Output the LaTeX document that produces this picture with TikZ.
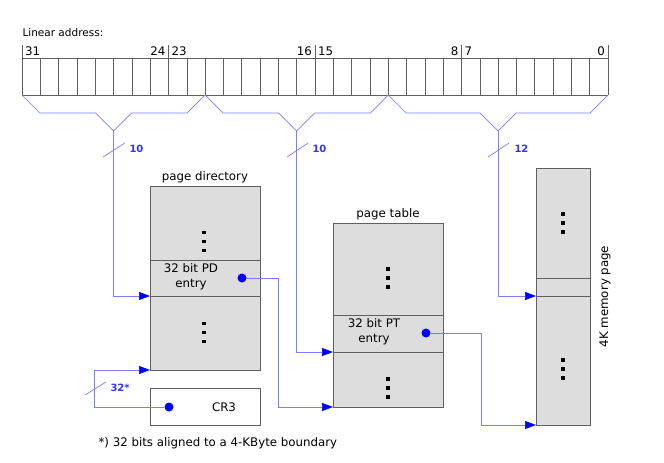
\documentclass[tikz,border=0pt]{standalone}
\usepackage{fontspec}
\setmainfont{DejaVu Sans}
\usepackage{xcolor}
\usetikzlibrary{arrows.meta,positioning}
\definecolor{linkblue}{RGB}{125,125,255}
\definecolor{boxgray}{RGB}{221,221,221}
\definecolor{edgegray}{RGB}{95,95,95}
\definecolor{lblblue}{RGB}{50,50,255}

\tikzset{
  membox/.style={draw=edgegray, fill=boxgray, line width=0.8pt, inner sep=0pt, outer sep=0pt},
  cell/.style={draw=edgegray, line width=0.6pt},
  wire/.style={draw=linkblue, line width=0.7pt},
  link/.style={wire, -{Triangle[length=11pt,width=8pt,color=blue]}},
  dot/.style={circle, fill=blue, inner sep=0pt, minimum size=9pt},
  lbl/.style={text=lblblue, font=\fontsize{10}{12}\selectfont\bfseries},
  bitno/.style={inner sep=3pt}
}

\begin{document}
\begin{tikzpicture}[x=1pt, y=-1pt, font=\fontsize{11.8}{15}\selectfont]
\useasboundingbox (0,0) rectangle (664,463);

% linear address register
\node[anchor=west, font=\fontsize{10.5}{12}\selectfont] (title) at (19,33) {Linear address:};
\draw[cell] (22,58) -- (608,58) (22,95) -- (608,95);
\foreach \i in {0,...,32}
  \draw[cell] ({22+\i*18.3125},58) -- ++(0,37);
\foreach \x in {22,168.5,315,461.5,608}
  \draw[cell] (\x,45) -- (\x,58);
\node[bitno, anchor=west] at (22,51) {31};
\node[bitno, anchor=east] at (168.5,51) {24};
\node[bitno, anchor=west] at (168.5,51) {23};
\node[bitno, anchor=east] at (315,51) {16};
\node[bitno, anchor=west] at (315,51) {15};
\node[bitno, anchor=east] at (461.5,51) {8};
\node[bitno, anchor=west] at (461.5,51) {7};
\node[bitno, anchor=east] at (608,51) {0};

% bit field braces
\foreach \l/\r/\n in {22/205.125/b1, 205.125/388.25/b2, 388.25/608/b3} {
  \draw[wire] (\l,95) -- ++(18,18) -- ({(\l+\r)/2-18},113) -- ({(\l+\r)/2},131)
    -- ({(\l+\r)/2+18},113) -- ({\r-18},113) -- (\r,95);
  \coordinate (\n) at ({(\l+\r)/2},131);
}

% page directory
\node[membox, minimum width=110pt, minimum height=184pt] (pd) at (205,278) {};
\node[above=0pt of pd] (pdtitle) {page directory};
\node[membox, minimum width=110pt, minimum height=36pt] (pde) at (205,278) {};
\node[align=center] (pdtext) at (191,277) {32 bit PD\\entry};
\node[dot] (pdd) at (242,278) {};

% page table
\node[membox, minimum width=110pt, minimum height=184pt] (pt) at (388,315) {};
\node[above=0pt of pt] (pttitle) {page table};
\node[membox, minimum width=110pt, minimum height=37pt] (pte) at (388,333.5) {};
\node[align=center] (pttext) at (374,332) {32 bit PT\\entry};
\node[dot] (ptd) at (426,333) {};

% memory page
\node[membox, minimum width=54pt, minimum height=257pt] (mp) at (563,296.5) {};
\node[membox, minimum width=54pt, minimum height=18pt] (mpe) at (563,287) {};
\node[rotate=90, anchor=north] (mptitle) at ([xshift=6pt]mp.east) {4K memory page};

% CR3
\node[membox, fill=white, minimum width=110pt, minimum height=37pt] (cr3) at (205,406.5) {};
\node (cr3text) at (224,407) {CR3};
\node[dot] (crd) at (169,407) {};

% vertical dots
\foreach \x/\y in {204/241.5, 204/332.5, 388/278, 388/388, 563/223, 563/369}
  \foreach \d in {-9,0,9}
    \fill ({\x-1.7},{\y+\d-1.7}) rectangle ++(3.4,3.4);

% connections
\draw[link] (b1) |- (pde.south west);
\draw[link] (b2) |- (pte.south west);
\draw[link] (b3) |- (mpe.south west);
\draw[link] (pdd.east) -- ++(31.5,0) |- (pt.south west);
\draw[link] (ptd.east) -- ++(50.5,0) |- (mp.south west);
\draw[link] (crd.west) -- ++(-69.5,0) |- (pd.south west);

% bus widths
\draw[wire] (103,157) -- (125,143);
\node[lbl, anchor=west] (w1) at (126,149) {10};
\draw[wire] (287,157) -- (308,143);
\node[lbl, anchor=west] (w2) at (309,149) {10};
\draw[wire] (488,157) -- (509,143);
\node[lbl, anchor=west] (w3) at (511,149) {12};
\draw[wire] (85,395) -- (106,382);
\node[lbl, anchor=west] (w4) at (107,388) {32*};

\node[anchor=west] (note) at (95,443) {*) 32 bits aligned to a 4-KByte boundary};
\end{tikzpicture}
\end{document}
